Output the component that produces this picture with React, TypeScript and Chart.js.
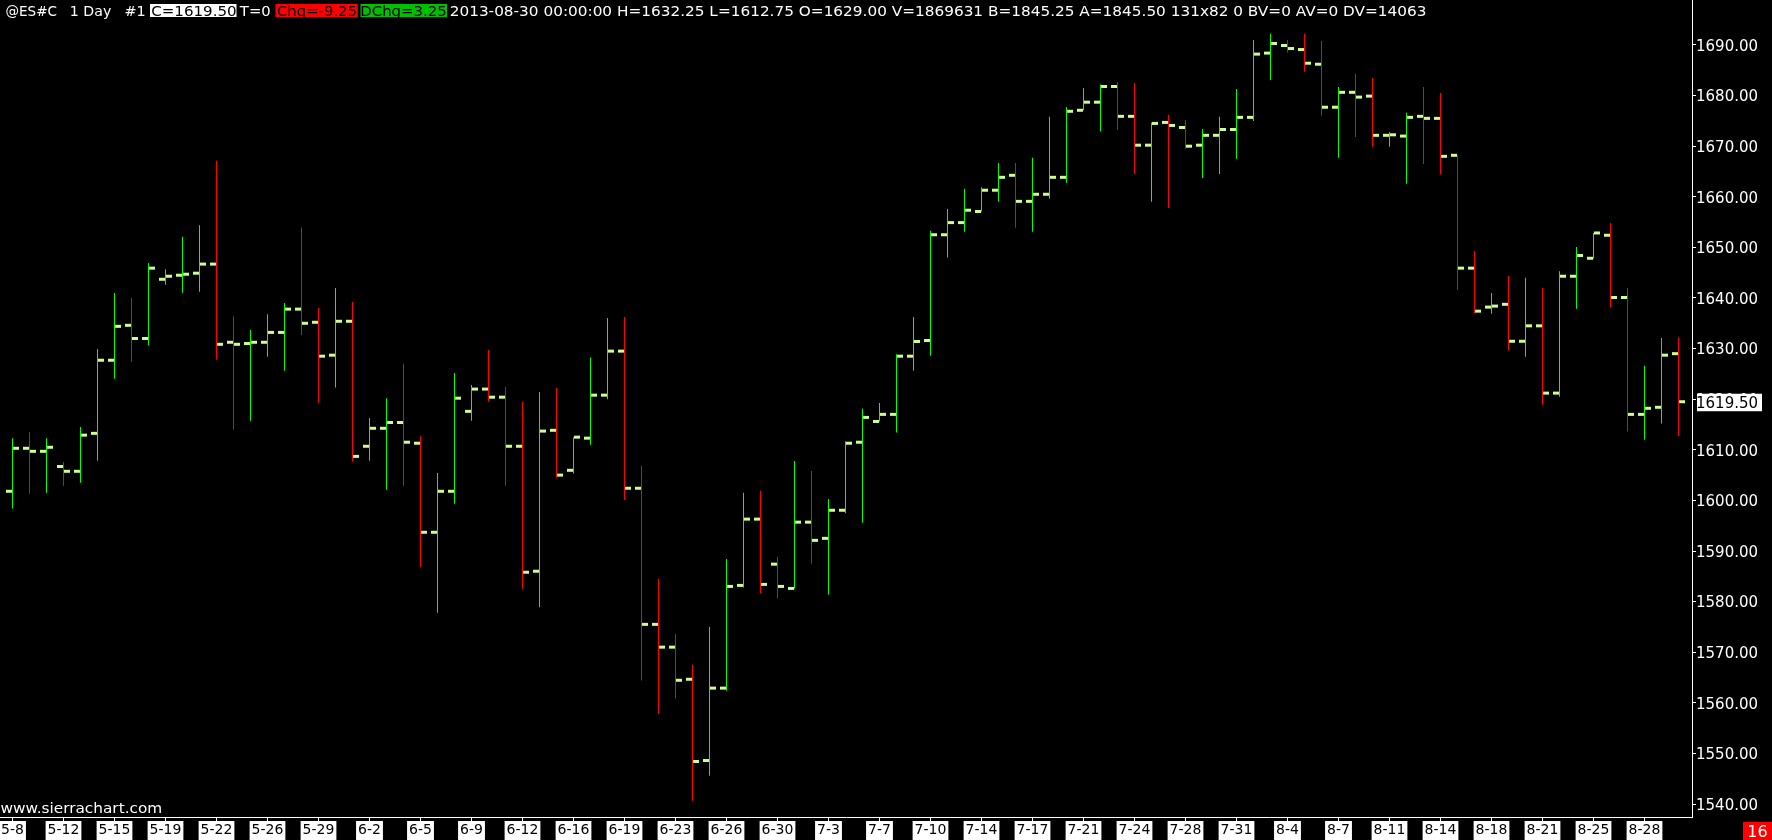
import React, { useEffect, useRef } from 'react';
import { Chart, registerables } from 'chart.js';

Chart.register(...registerables);

// ---- Data ----
const dates = [
  '5-8', '5-9', '5-10', '5-12', '5-13', '5-14', '5-15', '5-16', '5-17', '5-19', '5-20', '5-21', '5-22', '5-23', '5-24',
  '5-26', '5-27', '5-28', '5-29', '5-30', '5-31', '6-2', '6-3', '6-4', '6-5', '6-6', '6-7', '6-9', '6-10', '6-11',
  '6-12', '6-13', '6-14', '6-16', '6-17', '6-18', '6-19', '6-20', '6-21', '6-23', '6-24', '6-25', '6-26', '6-27', '6-28',
  '6-30', '7-1', '7-2', '7-3', '7-4', '7-5', '7-7', '7-8', '7-9', '7-10', '7-11', '7-12', '7-14', '7-15', '7-16',
  '7-17', '7-18', '7-19', '7-21', '7-22', '7-23', '7-24', '7-25', '7-26', '7-28', '7-29', '7-30', '7-31', '8-1', '8-2',
  '8-4', '8-5', '8-6', '8-7', '8-8', '8-9', '8-11', '8-12', '8-13', '8-14', '8-15', '8-16', '8-18', '8-19', '8-20',
  '8-21', '8-22', '8-23', '8-25', '8-26', '8-27', '8-28', '8-29', '8-30',
];

const opens = [
  1601.8, 1610.3, 1609.7, 1606.7, 1605.75, 1613.25, 1627.7, 1634.6, 1632.0, 1643.7,
  1644.5, 1644.9, 1646.7, 1631.25, 1631.0, 1631.25, 1633.2, 1637.8, 1635.2, 1628.7,
  1635.4, 1610.7, 1614.25, 1615.4, 1611.3, 1593.7, 1601.8, 1617.6, 1622.0, 1620.4,
  1610.7, 1586.0, 1613.85, 1605.95, 1612.3, 1620.8, 1629.5, 1602.4, 1575.5, 1571.0,
  1564.65, 1548.6, 1562.9, 1583.2, 1596.3, 1587.4, 1582.6, 1595.7, 1592.5, 1598.05,
  1611.5, 1615.6, 1617.0, 1628.5, 1631.6, 1652.5, 1654.9, 1657.1, 1661.3, 1664.25,
  1659.1, 1660.5, 1663.85, 1677.1, 1678.7, 1681.8, 1675.9, 1670.2, 1674.7, 1673.7,
  1670.2, 1672.15, 1673.3, 1675.7, 1688.4, 1689.9, 1689.1, 1686.2, 1677.7, 1680.65,
  1679.9, 1672.15, 1672.0, 1675.9, 1675.5, 1668.2, 1645.9, 1638.2, 1638.75, 1631.45,
  1634.5, 1621.2, 1644.3, 1647.85, 1652.4, 1640.1, 1617.0, 1618.4, 1629.0,
];

const highs = [
  1612.3, 1613.5, 1612.3, 1607.6, 1614.5, 1629.9, 1641.0, 1640.0, 1646.9, 1645.7,
  1652.1, 1654.4, 1667.1, 1636.4, 1633.7, 1636.8, 1639.0, 1654.0, 1638.0, 1642.0,
  1639.2, 1616.3, 1620.2, 1627.0, 1612.7, 1605.4, 1625.2, 1622.8, 1629.7, 1622.4,
  1619.45, 1621.4, 1622.2, 1612.5, 1628.3, 1636.05, 1636.25, 1606.8, 1584.5, 1573.6,
  1567.5, 1575.0, 1588.4, 1601.5, 1601.9, 1588.8, 1607.8, 1605.8, 1600.3, 1611.7,
  1618.1, 1619.25, 1628.9, 1636.25, 1653.3, 1657.6, 1661.6, 1661.9, 1666.7, 1666.7,
  1667.7, 1675.8, 1677.75, 1681.5, 1682.2, 1682.7, 1682.5, 1674.7, 1676.2, 1675.2,
  1673.4, 1675.8, 1681.3, 1691.0, 1692.2, 1691.0, 1692.2, 1690.8, 1681.7, 1684.3,
  1683.5, 1672.8, 1676.6, 1681.7, 1680.5, 1668.2, 1649.3, 1641.0, 1644.35, 1644.0,
  1642.0, 1645.3, 1650.1, 1652.85, 1654.8, 1642.0, 1626.6, 1632.1, 1632.25,
];

const lows = [
  1598.4, 1601.3, 1601.5, 1602.9, 1603.5, 1607.85, 1624.05, 1627.4, 1630.6, 1642.6,
  1641.05, 1641.25, 1627.8, 1614.0, 1615.75, 1628.4, 1625.6, 1632.7, 1619.3, 1622.3,
  1607.65, 1607.85, 1602.1, 1602.9, 1586.9, 1577.8, 1599.35, 1615.75, 1619.5, 1602.9,
  1582.55, 1578.9, 1604.5, 1605.3, 1611.0, 1620.0, 1600.1, 1564.4, 1557.8, 1560.8,
  1540.65, 1545.6, 1562.4, 1582.8, 1581.6, 1580.6, 1582.6, 1587.5, 1581.4, 1597.45,
  1595.6, 1615.6, 1613.4, 1625.6, 1628.6, 1648.0, 1653.1, 1657.1, 1659.0, 1653.9,
  1653.1, 1659.6, 1662.8, 1677.1, 1672.9, 1673.2, 1664.5, 1659.0, 1657.8, 1669.5,
  1663.7, 1664.5, 1667.5, 1675.0, 1683.1, 1688.5, 1684.7, 1676.0, 1667.7, 1671.8,
  1669.9, 1669.9, 1662.6, 1666.5, 1664.4, 1641.6, 1637.0, 1636.9, 1629.6, 1628.4,
  1618.9, 1620.5, 1637.9, 1647.8, 1638.2, 1613.6, 1612.0, 1615.2, 1612.75,
];

const closes = [
  1610.3, 1609.7, 1610.5, 1605.75, 1612.9, 1627.7, 1634.4, 1632.0, 1645.9, 1644.3,
  1644.7, 1646.7, 1630.85, 1630.85, 1631.25, 1633.2, 1637.8, 1635.0, 1628.5, 1635.4,
  1608.7, 1614.25, 1615.4, 1611.5, 1593.7, 1601.8, 1620.2, 1622.0, 1620.4, 1610.7,
  1585.8, 1613.7, 1605.0, 1612.5, 1620.8, 1629.5, 1602.4, 1575.5, 1571.0, 1564.45,
  1548.4, 1562.9, 1583.0, 1596.3, 1583.4, 1583.0, 1595.7, 1592.1, 1598.05, 1611.3,
  1616.4, 1617.0, 1628.5, 1631.4, 1652.5, 1654.9, 1657.35, 1661.3, 1663.85, 1659.1,
  1660.5, 1663.85, 1676.9, 1678.7, 1681.8, 1675.9, 1670.2, 1674.5, 1674.1, 1670.0,
  1672.15, 1673.3, 1675.7, 1688.2, 1690.3, 1689.3, 1686.4, 1677.7, 1680.65, 1679.7,
  1672.15, 1672.25, 1675.7, 1675.5, 1668.0, 1645.9, 1637.4, 1638.4, 1631.45, 1634.5,
  1621.2, 1644.3, 1648.4, 1652.85, 1640.1, 1617.0, 1618.2, 1628.7, 1619.5,
];

const dateTickLabels = [
  '5-8', '5-12', '5-15', '5-19', '5-22', '5-26', '5-29', '6-2', '6-5', '6-9', '6-12', '6-16', '6-19', '6-23', '6-26',
  '6-30', '7-3', '7-7', '7-10', '7-14', '7-17', '7-21', '7-24', '7-28', '7-31', '8-4', '8-7', '8-11', '8-14', '8-18',
  '8-21', '8-25', '8-28',
];

const priceTicks = [
  1540, 1550, 1560, 1570, 1580, 1590, 1600, 1610, 1620, 1630, 1640, 1650, 1660, 1670, 1680, 1690,
];

const headerPieces = [
  { text: '@ES#C', x: 5.5, w: 51.7, bg: null, fg: '#ffffff' },
  { text: '1 Day', x: 70.8, w: 40.2, bg: null, fg: '#ffffff' },
  { text: '#1', x: 125.5, w: 19.2, bg: null, fg: '#ffffff' },
  { text: 'C=1619.50', x: 151.2, w: 84.5, bg: '#ffffff', bx: 150, bw: 86.5, fg: '#000000' },
  { text: 'T=0', x: 238.8, w: 31.0, bg: null, fg: '#ffffff' },
  { text: 'Chg=-9.25', x: 277.0, w: 79.0, bg: '#ff0000', bx: 275.5, bw: 82.3, fg: '#000000' },
  { text: 'DChg=3.25', x: 361.3, w: 84.5, bg: '#00c000', bx: 360.5, bw: 86.5, fg: '#000000' },
  {
    text: '2013-08-30 00:00:00 H=1632.25 L=1612.75 O=1629.00 V=1869631 B=1845.25 A=1845.50 131x82 0 BV=0 AV=0 DV=14063',
    x: 450.8, w: 974.7, bg: null, fg: '#ffffff',
  },
];

const UP = '#00ff00';
const DOWN = '#ff0000';
const TICK = '#ccff90';

function fitText(ctx: CanvasRenderingContext2D, text: string, x: number, y: number, w: number, font: string, color: string) {
  ctx.save();
  ctx.font = font;
  const m = ctx.measureText(text);
  const natural = m.actualBoundingBoxLeft + m.actualBoundingBoxRight || m.width;
  const sx = w / natural;
  ctx.translate(x, y);
  ctx.scale(sx, 1);
  ctx.fillStyle = color;
  ctx.textBaseline = 'alphabetic';
  ctx.textAlign = 'left';
  ctx.fillText(text, m.actualBoundingBoxLeft || 0, 0);
  ctx.restore();
}

const overlayPlugin = {
  id: 'sierraOverlay',
  beforeDraw(chart: any) {
    const ctx = chart.ctx as CanvasRenderingContext2D;
    ctx.save();
    ctx.fillStyle = '#000000';
    ctx.fillRect(0, 0, chart.width, chart.height);
    ctx.restore();
  },
  afterDraw(chart: any) {
    const ctx = chart.ctx as CanvasRenderingContext2D;
    const yScale = chart.scales.y;
    const area = chart.chartArea;
    // header
    for (const p of headerPieces as any[]) {
      if (p.bg) {
        ctx.fillStyle = p.bg;
        ctx.fillRect(p.bx, 4, p.bw, 13);
      }
      fitText(ctx, p.text, p.x, 15.5, p.w, '14px "DejaVu Sans"', p.fg);
    }
    // watermark
    fitText(ctx, 'www.sierrachart.com', 0.5, 813, 161, '14px "DejaVu Sans"', '#ffffff');
    // last price box
    const last = closes[closes.length - 1];
    const yp = yScale.getPixelForValue(last);
    ctx.save();
    ctx.fillStyle = '#ffffff';
    ctx.fillRect(area.right + 5, yp - 8, 65, 17.5);
    ctx.fillStyle = '#000000';
    ctx.font = '15px "DejaVu Sans"';
    ctx.textBaseline = 'middle';
    ctx.textAlign = 'left';
    ctx.fillText(last.toFixed(2), area.right + 4, yp + 2);
    // bar counter box
    ctx.fillStyle = '#ff0000';
    ctx.fillRect(1743, 822, 29, 18);
    ctx.fillStyle = '#ffffff';
    ctx.font = '16px "DejaVu Sans"';
    ctx.textAlign = 'center';
    ctx.fillText('16', 1757.5, 832.5);
    ctx.restore();
  },
};

export default function App() {
  const ref = useRef<HTMLCanvasElement>(null);

  useEffect(() => {
    document.body.style.margin = '0';
    document.body.style.background = '#000';
    const canvas = ref.current!;
    const xMin = -12.5 / 17;
    const xMax = (1692 - 12.5) / 17;
    const yTop = 1690 + 45 / 5.06;
    const yBottom = 1690 - 772 / 5.06;
    const tickHalf = 1.5 / 5.06;
    const tickOffset = 3.5 / 17;

    const rangeData = dates.map((_, i) => ({ x: i, y: [lows[i], highs[i]] }));
    const openData = dates.map((_, i) => ({ x: i - tickOffset, y: [opens[i] - tickHalf, opens[i] + tickHalf] }));
    const closeData = dates.map((_, i) => ({ x: i + tickOffset, y: [closes[i] - tickHalf, closes[i] + tickHalf] }));
    const rangeColors = dates.map((_, i) => (closes[i] >= opens[i] ? UP : DOWN));

    const common = {
      grouped: false,
      categoryPercentage: 1,
      barPercentage: 1,
      inflateAmount: 0,
      borderWidth: 0,
    };

    const chart = new Chart(canvas, {
      type: 'bar',
      data: {
        datasets: [
          { label: 'Open', data: openData as any, backgroundColor: TICK, barThickness: 6, order: 0, ...common },
          { label: 'Close', data: closeData as any, backgroundColor: TICK, barThickness: 6, order: 0, ...common },
          { label: 'High-Low', data: rangeData as any, backgroundColor: rangeColors, barThickness: 1, order: 1, ...common },
        ] as any,
      },
      options: {
        animation: false,
        responsive: false,
        devicePixelRatio: 1,
        layout: { padding: 0 },
        plugins: { legend: { display: false }, tooltip: { enabled: false }, title: { display: false } },
        events: [],
        scales: {
          x: {
            type: 'linear',
            position: 'bottom',
            min: xMin,
            max: xMax,
            offset: false,
            afterBuildTicks: (s: any) => {
              s.ticks = dateTickLabels.map((l) => ({ value: dates.indexOf(l) }));
            },
            afterFit: (s: any) => {
              s.height = 23;
              s.paddingLeft = 0;
              s.paddingRight = 0;
            },
            grid: {
              offset: false,
              drawOnChartArea: false,
              drawTicks: true,
              tickLength: 4,
              color: '#ffffff',
              tickColor: '#ffffff',
            },
            border: { display: true, color: '#ffffff', width: 1 },
            ticks: {
              autoSkip: false,
              maxRotation: 0,
              minRotation: 0,
              color: '#000000',
              font: { family: 'DejaVu Sans', size: 14 },
              padding: 1,
              showLabelBackdrop: true,
              backdropColor: '#ffffff',
              backdropPadding: { top: 1, bottom: 3, left: 2, right: 2 },
              callback: (v: any) => dates[Math.round(Number(v))],
            },
          },
          y: {
            type: 'linear',
            position: 'right',
            min: yBottom,
            max: yTop,
            afterBuildTicks: (s: any) => {
              s.ticks = priceTicks.map((v) => ({ value: v }));
            },
            afterFit: (s: any) => {
              s.width = 80;
              s.paddingTop = 0;
              s.paddingBottom = 0;
            },
            grid: {
              drawOnChartArea: false,
              drawTicks: true,
              tickLength: 4,
              color: '#ffffff',
              tickColor: '#ffffff',
            },
            border: { display: true, color: '#ffffff', width: 1 },
            ticks: {
              autoSkip: false,
              color: '#ffffff',
              font: { family: 'DejaVu Sans', size: 15 },
              padding: 0,
              labelOffset: 2,
              callback: (v: any) => Number(v).toFixed(2),
            },
          },
        },
      } as any,
      plugins: [overlayPlugin as any],
    });

    return () => chart.destroy();
  }, []);

  return (
    <canvas
      ref={ref}
      width={1772}
      height={840}
      style={{ display: 'block', width: '1772px', height: '840px', background: '#000' }}
    />
  );
}
